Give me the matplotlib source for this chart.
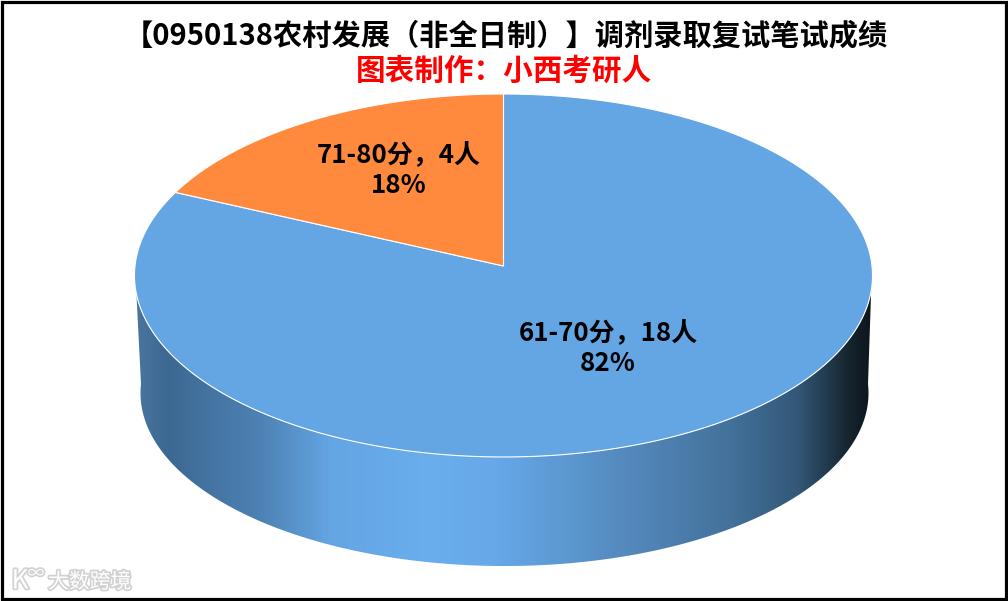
import numpy as np
import matplotlib
matplotlib.use('Agg')
import matplotlib.pyplot as plt
import matplotlib.patheffects as pe
from matplotlib.colors import LinearSegmentedColormap
from matplotlib.patches import Polygon, Rectangle
from matplotlib.transforms import Affine2D

plt.rcParams['font.family'] = ['Noto Sans CJK SC', 'DejaVu Sans']

W, H = 1008, 601

title = '【0950138农村发展（非全日制）】调剂录取复试笔试成绩'
subtitle = '图表制作：小西考研人'
labels = ['61-70分，18人\n82%', '71-80分，4人\n18%']
counts = [18, 4]
colors = ['#64A5E3', '#FF8A3D']
watermark = '大数跨境'

# side wall shading, left to right
wall_stops = [0.0, 0.04, 0.17, 0.265, 0.40, 0.49, 0.675, 0.81, 0.90, 0.97, 1.0]
wall_colors = ['#4A769E', '#3C6892', '#4D82B4', '#64A5E3', '#6AAEEE', '#66A8E8',
               '#5388BB', '#43719B', '#335878', '#16252F', '#0C151B']

# pixel geometry, disc is seen in perspective (back edge squeezed by k)
cx, cy, rx, ry = 503.5, 266, 368.5, 181
bx, by, brx, bry = 504.5, 384, 363.5, 172.5
k = 0.0523


def project(u, v, x0, y0, r_x, r_y):
    # unit disc coords to pixels
    w = 1 + k * v
    return np.column_stack([x0 + r_x * u / w, y0 - r_y * v / w])


fig = plt.figure(figsize=(W / 100, H / 100), dpi=100, facecolor='white')
bg = fig.add_axes([0, 0, 1, 1])
bg.axis('off')

# wall = front half of top disc closed with front half of bottom disc
t = np.linspace(0, -np.pi, 400)
front_top = project(np.cos(t), np.sin(t), cx, cy, rx, ry)
front_bot = project(np.cos(t), np.sin(t), bx, by, brx, bry)
clip = Polygon(np.vstack([front_top, front_bot[::-1]]), closed=True, transform=bg.transData, fc='none', ec='none')
bg.add_patch(clip)
cmap = LinearSegmentedColormap.from_list('wall', list(zip(wall_stops, wall_colors)))
grad = np.linspace(0, 1, 512).reshape(1, -1)
im = bg.imshow(grad, cmap=cmap, extent=[cx - rx, cx + rx, 570, cy], aspect='auto', zorder=1)
im.set_clip_path(clip)
bg.set_xlim(0, W)
bg.set_ylim(H, 0)

# pie gives the wedge shapes, then they get pushed through the perspective
ax = fig.add_axes([0.4, 0.4, 0.2, 0.2])
wedges, _ = ax.pie(counts, colors=colors, startangle=90, counterclock=False, radius=1)
for w_ in wedges:
    verts = w_.get_path().to_polygons(Affine2D().scale(1000))[0] / 1000
    pts = project(verts[:, 0], verts[:, 1], cx, cy, rx, ry)
    bg.add_patch(Polygon(pts, closed=True, fc=w_.get_facecolor(), ec='white', lw=0.8, zorder=2))
ax.set_visible(False)

bg.text(505.5, 35, title, ha='center', va='center', fontsize=21.05, fontweight='bold', color='black', zorder=5)
bg.text(504, 71, subtitle, ha='center', va='center', fontsize=21.3, fontweight='bold', color='#FF0000', zorder=5)
bg.text(608, 348, labels[0], ha='center', va='center', fontsize=18.7, fontweight='bold',
        color='black', linespacing=1.2, zorder=5)
bg.text(399, 170, labels[1], ha='center', va='center', fontsize=18.7, fontweight='bold',
        color='black', linespacing=1.2, zorder=5)

# watermark
glow = [pe.withStroke(linewidth=2.5, foreground='#D2D2D2')]
bg.text(48, 582, watermark, ha='left', va='center', fontsize=15, color='white', path_effects=glow, zorder=5)
bg.text(20, 581, 'K', ha='center', va='center', fontsize=19, color='white', path_effects=glow, zorder=5)
bg.text(36, 574, '∞', ha='center', va='center', fontsize=12, color='white', path_effects=glow, zorder=5)

# black frame round the picture
bg.add_patch(Rectangle((1.5, 1.5), 1004, 597, fc='none', ec='black', lw=2.3, zorder=6))

fig.savefig('out.png', dpi=100)
